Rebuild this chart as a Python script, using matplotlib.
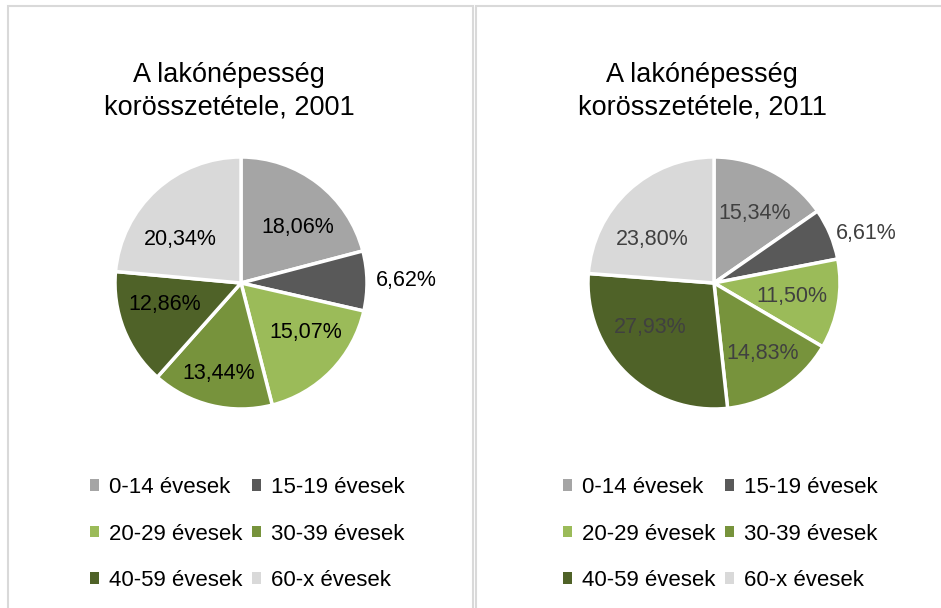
import numpy as np
import matplotlib
matplotlib.use("Agg")
from matplotlib import pyplot as plt
from matplotlib.patches import Rectangle, Patch

plt.rcParams['font.family'] = ['Liberation Sans', 'DejaVu Sans']

categories = ["0-14 évesek", "15-19 évesek", "20-29 évesek",
              "30-39 évesek", "40-59 évesek", "60-x évesek"]
values_2001 = [18.06, 6.62, 15.07, 13.44, 12.86, 20.34]
values_2011 = [15.34, 6.61, 11.50, 14.83, 27.93, 23.80]
labels_2001 = ["18,06%", "6,62%", "15,07%", "13,44%", "12,86%", "20,34%"]
labels_2011 = ["15,34%", "6,61%", "11,50%", "14,83%", "27,93%", "23,80%"]
titles = ["A lakónépesség\nkorösszetétele, 2001", "A lakónépesség\nkorösszetétele, 2011"]

colors = ['#A5A5A5', '#595959', '#9BBB59', '#77933C', '#4F6228', '#D9D9D9']

# label placement (fraction of radius, angle tweak in degrees) - mimics Excel "best fit"
pos_2001 = [(0.63, -8), (1.31, 0), (0.65, 7), (0.74, 0), (0.63, -6), (0.59, 12)]
pos_2011 = [(0.64, -3), (1.27, -5), (0.63, 0), (0.68, 2), (0.62, -11), (0.60, 12)]

W, H = 941, 608
fig = plt.figure(figsize=(W / 100, H / 100), dpi=100)


def px(x, y, w, h):
    return [x / W, 1 - (y + h) / H, w / W, h / H]


# panel borders
for x0, x1 in [(8, 473), (476, 960)]:
    fig.add_artist(Rectangle((x0 / W, -0.05), (x1 - x0) / W, (H - 6) / H + 0.05,
                             transform=fig.transFigure, fill=False,
                             edgecolor='#D9D9D9', lw=1.5))

panels = [
    (values_2001, labels_2001, pos_2001, '#000000', 241, 229, 95),
    (values_2011, labels_2011, pos_2011, '#404040', 714, 702, 568),
]

for i, (vals, labs, pos, tcol, cx, tx, lx) in enumerate(panels):
    r = 126
    ax = fig.add_axes(px(cx - r, 283 - r, 2 * r, 2 * r))
    wedges, _ = ax.pie(vals, colors=colors, startangle=90, counterclock=False,
                       wedgeprops=dict(edgecolor='white', linewidth=2.5))
    ax.set_xlim(-1, 1)
    ax.set_ylim(-1, 1)
    ax.set_aspect('equal')
    ax.axis('off')
    for w, lab, (d, da) in zip(wedges, labs, pos):
        ang = np.deg2rad((w.theta1 + w.theta2) / 2 + da)
        ax.text(d * np.cos(ang), d * np.sin(ang), lab, ha='center', va='center',
                fontsize=15.5, color=tcol, clip_on=False)

    fig.text(tx / W, 1 - 91 / H, titles[i], ha='center', va='center',
             fontsize=19.5, linespacing=1.35)

    order = [0, 2, 4, 1, 3, 5]
    handles = [Patch(facecolor=colors[k], edgecolor='none') for k in order]
    fig.legend(handles, [categories[k] for k in order], ncol=2,
               loc='upper left', bbox_to_anchor=((lx - 5) / W, 1 - 477 / H),
               frameon=False, fontsize=16, handlelength=0.42, handleheight=0.42,
               handletextpad=0.45, columnspacing=0.4, labelspacing=1.15,
               borderaxespad=0, borderpad=0)

fig.savefig("out.png", dpi=100)
